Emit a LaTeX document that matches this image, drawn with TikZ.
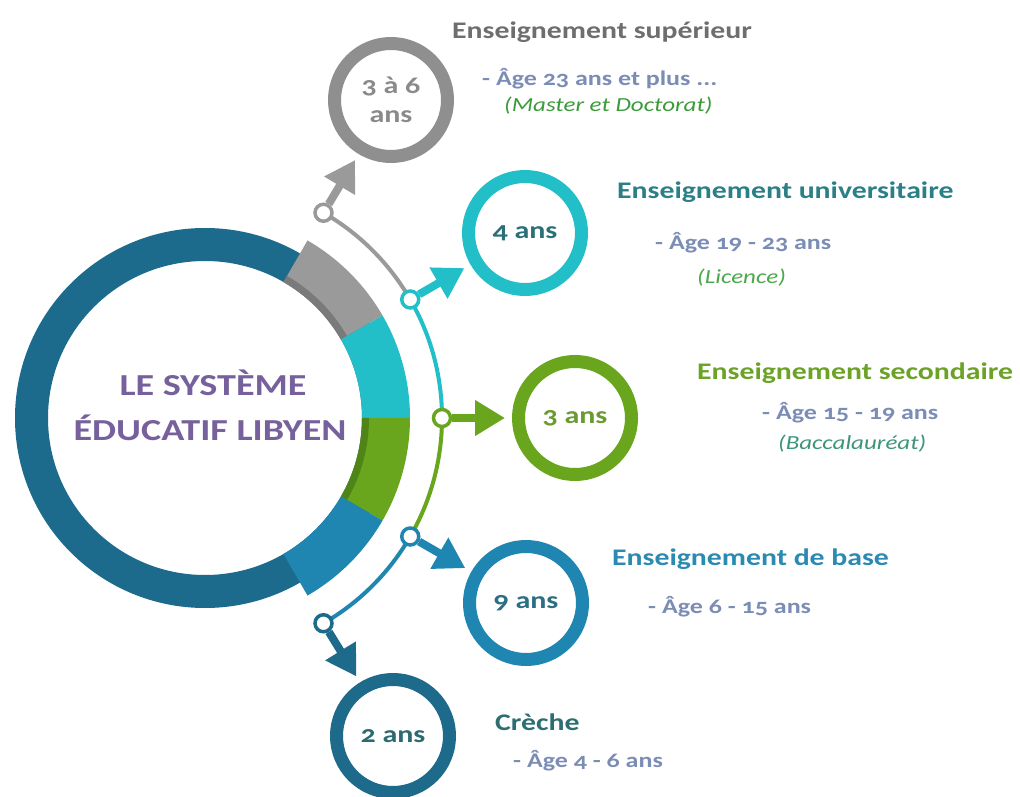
\documentclass[tikz,border=0pt]{standalone}
\usepackage{fontspec}
\setmainfont{Carlito}[FakeStretch=1.25, Numbers=OldStyle]
\usetikzlibrary{arrows.meta}
\definecolor{ringdark}{HTML}{1C6B8C}
\definecolor{grayseg}{HTML}{9A9A9A}
\definecolor{grayshadow}{HTML}{7A7A7A}
\definecolor{cyanseg}{HTML}{22BFC9}
\definecolor{greenseg}{HTML}{6AA51E}
\definecolor{greenshadow}{HTML}{4F8419}
\definecolor{blueseg}{HTML}{1F86B2}
\definecolor{graycirc}{HTML}{8F8F8F}
\definecolor{darkcirc}{HTML}{1D6A8A}
\definecolor{hdrgray}{HTML}{6E6E6E}
\definecolor{hdruni}{HTML}{2B7F87}
\definecolor{hdrsec}{HTML}{6CA326}
\definecolor{hdrbase}{HTML}{2A8AB2}
\definecolor{hdrcreche}{HTML}{2D6E72}
\definecolor{agecol}{HTML}{7B8DB5}
\definecolor{mastercol}{HTML}{3B9B3B}
\definecolor{licencecol}{HTML}{4BA84B}
\definecolor{bacccol}{HTML}{3E957C}
\definecolor{titlecol}{HTML}{76619C}
\definecolor{txtgray}{HTML}{8A8A8A}
\definecolor{txtuni}{HTML}{2B6F78}
\definecolor{txtsec}{HTML}{6A9A30}
\definecolor{txtbase}{HTML}{2C6E84}
\definecolor{txtcreche}{HTML}{2D6A70}
\tikzset{
  dotnode/.style={circle, fill=white, line width=3.5pt, minimum size=17pt, inner sep=0pt},
  ringnode/.style={circle, line width=13pt, minimum size=113pt, inner sep=0pt, outer sep=0pt, fill=white,
    align=center, font=\fontsize{24}{29}\selectfont\bfseries},
  arr/.style={line width=8pt, -{Triangle[length=30pt,width=34pt]}, shorten >=13.5pt},
  track/.style={line width=4pt},
  hdr/.style={anchor=base west, inner sep=0pt, font=\fontsize{23.8}{28}\selectfont\bfseries},
  agetxt/.style={anchor=base west, inner sep=0pt, text=agecol, font=\fontsize{20.8}{24}\selectfont\bfseries},
  partxt/.style={anchor=base west, inner sep=0pt, font=\fontsize{20}{23}\selectfont\itshape},
  titletxt/.style={anchor=base, inner sep=0pt, text=titlecol, font=\fontsize{30.5}{36}\selectfont\bfseries}
}
\begin{document}
\begin{tikzpicture}[x=1pt,y=1pt]
\useasboundingbox (0,0) rectangle (1020,796);
\fill[white] (0,0) rectangle (1020,796);
\coordinate (C) at (205,378);
\begin{scope}[shift={(205,378)}]
  % dark ring
  \fill[ringdark, even odd rule] (0,0) circle[radius=190] (0,0) circle[radius=157];
  % coloured segments
  \fill[grayseg] (30:157) arc[start angle=30,end angle=60,radius=157] -- (60:205) arc[start angle=60,end angle=30,radius=205] -- cycle;
  \fill[grayshadow] (30:157) arc[start angle=30,end angle=60,radius=157] -- (60:164) arc[start angle=60,end angle=30,radius=164] -- cycle;
  \fill[cyanseg] (0:157) arc[start angle=0,end angle=30,radius=157] -- (30:205) arc[start angle=30,end angle=0,radius=205] -- cycle;
  \fill[greenseg] (-30:157) arc[start angle=-30,end angle=0,radius=157] -- (0:205) arc[start angle=0,end angle=-30,radius=205] -- cycle;
  \fill[greenshadow] (-30:157) arc[start angle=-30,end angle=0,radius=157] -- (0:164) arc[start angle=0,end angle=-30,radius=164] -- cycle;
  \fill[blueseg] (-60:157) arc[start angle=-60,end angle=-30,radius=157] -- (-30:205) arc[start angle=-30,end angle=-60,radius=205] -- cycle;
  % track
  \draw[track, grayseg] (60:237) arc[start angle=60,end angle=30,radius=237];
  \draw[track, cyanseg] (30:237) arc[start angle=30,end angle=0,radius=237];
  \draw[track, greenseg] (0:237) arc[start angle=0,end angle=-30,radius=237];
  \draw[track, blueseg] (-30:237) arc[start angle=-30,end angle=-60,radius=237];
  % dots
  \node[dotnode, draw=grayseg] (d1) at (60:237) {};
  \node[dotnode, draw=cyanseg] (d2) at (30:237) {};
  \node[dotnode, draw=greenseg] (d3) at (0:237) {};
  \node[dotnode, draw=blueseg] (d4) at (-30:237) {};
  \node[dotnode, draw=darkcirc] (d5) at (-60:237) {};
\end{scope}
% title
\node[titletxt] (t1) at (213,400) {LE SYSTÈME};
\node[titletxt] (t2) at (210,355) {ÉDUCATIF LIBYEN};
% circles
\node[ringnode, draw=graycirc, text=txtgray] (c1) at (391,696) {3 à 6\\ans};
\node[ringnode, draw=cyanseg, text=txtuni] (c2) at (525,563) {4 ans};
\node[ringnode, draw=greenseg, text=txtsec] (c3) at (575,378) {3 ans};
\node[ringnode, draw=blueseg, text=txtbase] (c4) at (526,193) {9 ans};
\node[ringnode, draw=darkcirc, text=txtcreche] (c5) at (393,60) {2 ans};
% arrows
\draw[arr, grayseg] (d1) -- (c1);
\draw[arr, cyanseg] (d2) -- (c2);
\draw[arr, greenseg] (d3) -- (c3);
\draw[arr, blueseg] (d4) -- (c4);
\draw[arr, darkcirc] (d5) -- (c5);
% texts
\node[hdr, text=hdrgray] (h1) at (452,757) {Enseignement supérieur};
\node[agetxt] (a1) at (482,710) {- Âge 23 ans et plus ...};
\node[partxt, text=mastercol] (p1) at (504,684) {(Master et Doctorat)};
\node[hdr, text=hdruni] (h2) at (617,597) {Enseignement universitaire};
\node[agetxt] (a2) at (655,546) {- Âge 19 - 23 ans};
\node[partxt, text=licencecol] (p2) at (697,512) {(Licence)};
\node[hdr, text=hdrsec] (h3) at (697,416) {Enseignement secondaire};
\node[agetxt] (a3) at (762,376) {- Âge 15 - 19 ans};
\node[partxt, text=bacccol] (p3) at (778,346) {(Baccalauréat)};
\node[hdr, text=hdrbase] (h4) at (612,231) {Enseignement de base};
\node[agetxt] (a4) at (648,183) {- Âge 6 - 15 ans};
\node[hdr, text=hdrcreche] (h5) at (495,66) {Crèche};
\node[agetxt] (a5) at (513,29) {- Âge 4 - 6 ans};
\end{tikzpicture}
\end{document}
